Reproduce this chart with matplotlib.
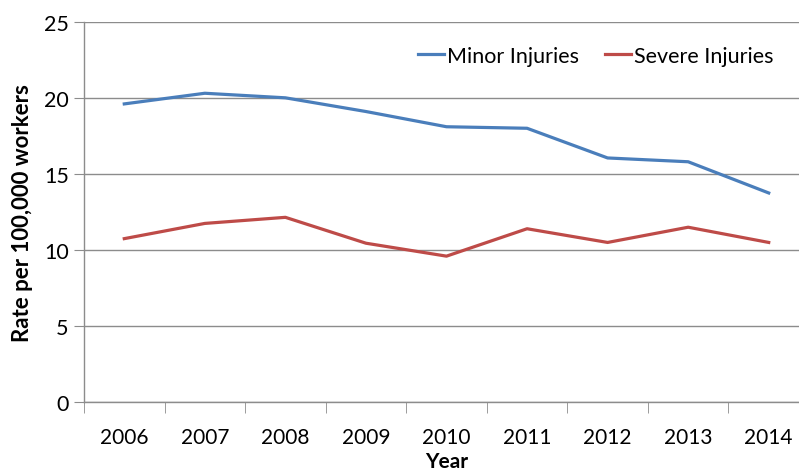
import matplotlib
matplotlib.use("Agg")
import matplotlib.pyplot as plt
from matplotlib.ticker import FixedLocator

years = ["2006", "2007", "2008", "2009", "2010", "2011", "2012", "2013", "2014"]
minor_injuries = [19.6, 20.3, 20.0, 19.1, 18.1, 18.0, 16.05, 15.8, 13.75]
severe_injuries = [10.75, 11.75, 12.15, 10.45, 9.6, 11.4, 10.5, 11.5, 10.5]
y_ticks = [0, 5, 10, 15, 20, 25]

plt.rcParams['font.family'] = ['Lato', 'DejaVu Sans']

fig = plt.figure(figsize=(7.99, 4.77), dpi=100)
ax = fig.add_axes([84 / 799, 1 - 403.3 / 477, 725 / 799, (403.3 - 22.7) / 477])

x = list(range(len(years)))
ax.plot(x, minor_injuries, color="#4A7EBB", lw=2.3, label="Minor Injuries")
ax.plot(x, severe_injuries, color="#BE4B48", lw=2.3, label="Severe Injuries")

ax.set_xlim(-0.5, len(years) - 0.5)
ax.set_ylim(0, 25)
ax.set_yticks(y_ticks)
ax.yaxis.grid(True, color="#8C8C8C", lw=1.0)
ax.set_axisbelow(True)

ax.set_xticks(x)
ax.set_xticklabels(years, fontsize=15)
ax.xaxis.set_minor_locator(FixedLocator([i - 0.5 for i in range(len(years) + 1)]))
ax.tick_params(axis="x", which="major", length=0, pad=18)
ax.tick_params(axis="x", which="minor", length=8, color="#8C8C8C", direction="out")
ax.tick_params(axis="y", length=7, color="#8C8C8C", labelsize=15.5, pad=4)

for side in ("top", "right"):
    ax.spines[side].set_visible(False)
for side in ("left", "bottom"):
    ax.spines[side].set_color("#8C8C8C")
    ax.spines[side].set_linewidth(1.0)

ax.set_ylabel("Rate per 100,000 workers", fontsize=16, fontweight="bold", labelpad=8)
ax.set_xlabel("Year", fontsize=15, fontweight="bold", labelpad=3)

ax.legend(loc="center left", bbox_to_anchor=(0.4607, 0.91), ncol=2, frameon=False,
          borderpad=0, borderaxespad=0,
          fontsize=15.5, handlelength=1.2, handletextpad=0.15, columnspacing=1.2)

fig.savefig("out.png", dpi=100)
